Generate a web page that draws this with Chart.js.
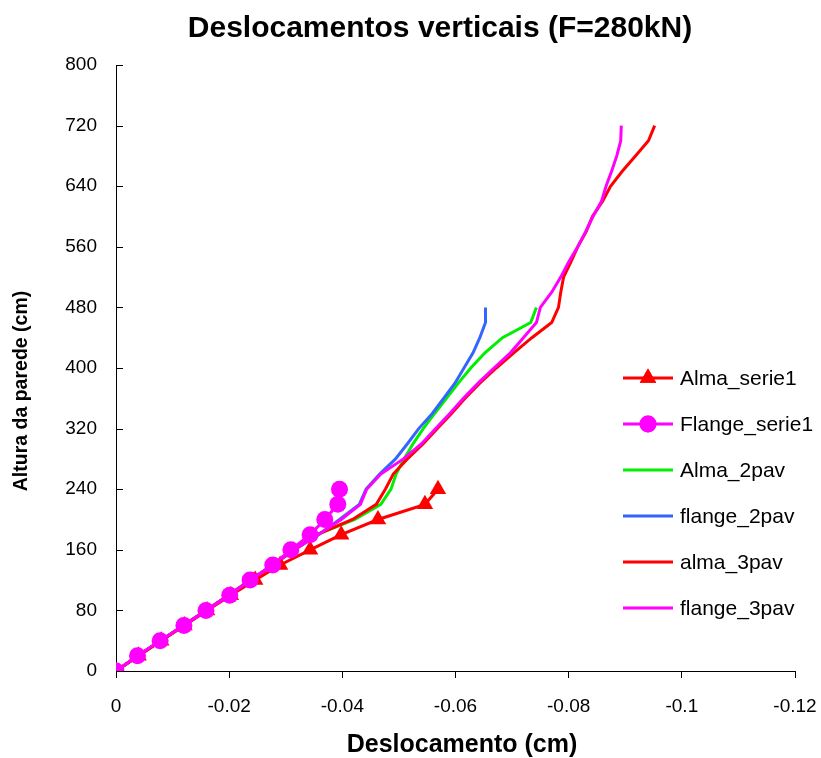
<!DOCTYPE html>
<html>
<head>
<meta charset="utf-8">
<script src="https://cdn.jsdelivr.net/npm/chart.js@4.4.0/dist/chart.umd.min.js"></script>
<style>
  html, body { margin: 0; padding: 0; background: #ffffff; }
  #wrap { width: 821px; height: 758px; position: relative; }
</style>
</head>
<body>
<div id="wrap"><canvas id="grafico"></canvas></div>
<script>
// Alturas (cm) e deslocamentos verticais (cm)
const alturasSerie1 = [0, 20, 40, 60, 80, 100, 120, 140, 160, 180, 200, 220, 240];
const almaSerie1   = [0, -0.0040, -0.0080, -0.0121, -0.0161, -0.0203, -0.0246, -0.0290, -0.0343, -0.0398, -0.0463, -0.0546, -0.0569];
const flangeSerie1 = [0, -0.0038, -0.0078, -0.0120, -0.0159, -0.0201, -0.0237, -0.0277, -0.0309, -0.0343, -0.0369, -0.0392, -0.0395];

const alturas2pav = [0, 20, 40, 60, 80, 100, 120, 140, 160, 180, 200, 220, 240, 260, 280, 300, 320, 340, 360, 380, 400, 420, 440, 460, 480];
const alma2pav   = [0, -0.0039, -0.0079, -0.0119, -0.0159, -0.0199, -0.0238, -0.0277, -0.0315, -0.0355, -0.0422, -0.0468, -0.0486, -0.0495, -0.0509, -0.0525, -0.0543, -0.0563, -0.0584, -0.0605, -0.0627, -0.0652, -0.0683, -0.0733, -0.0743];
const flange2pav = [0, -0.0039, -0.0079, -0.0119, -0.0159, -0.0199, -0.0238, -0.0277, -0.0315, -0.0358, -0.0395, -0.0430, -0.0442, -0.0466, -0.0494, -0.0515, -0.0535, -0.0559, -0.0579, -0.0599, -0.0615, -0.0631, -0.0643, -0.0653, -0.0653];

const alturas3pav = [0, 20, 40, 60, 80, 100, 120, 140, 160, 180, 200, 220, 240, 260, 280, 300, 320, 340, 360, 380, 400, 420, 440, 460, 480, 500, 520, 540, 560, 580, 600, 620, 640, 660, 680, 700, 720];
const alma3pav   = [0, -0.0039, -0.0079, -0.0119, -0.0159, -0.0199, -0.0238, -0.0277, -0.0315, -0.0355, -0.0418, -0.0460, -0.0476, -0.0490, -0.0515, -0.0543, -0.0568, -0.0593, -0.0617, -0.0643, -0.0672, -0.0703, -0.0735, -0.0770, -0.0782, -0.0786, -0.0791, -0.0804, -0.0816, -0.0831, -0.0842, -0.0860, -0.0874, -0.0895, -0.0918, -0.0941, -0.0952];
const flange3pav = [0, -0.0039, -0.0079, -0.0119, -0.0159, -0.0199, -0.0238, -0.0277, -0.0315, -0.0357, -0.0398, -0.0432, -0.0443, -0.0468, -0.0508, -0.0540, -0.0565, -0.0590, -0.0614, -0.0640, -0.0668, -0.0697, -0.0720, -0.0743, -0.0750, -0.0770, -0.0786, -0.0800, -0.0816, -0.0830, -0.0843, -0.0858, -0.0866, -0.0876, -0.0885, -0.0892, -0.0893];

// Eixos
const xTickValues = [0, -0.02, -0.04, -0.06, -0.08, -0.1, -0.12];
const xTickLabels = ['0', '-0.02', '-0.04', '-0.06', '-0.08', '-0.1', '-0.12'];
const yTickValues = [0, 80, 160, 240, 320, 400, 480, 560, 640, 720, 800];
const yTickLabels = ['0', '80', '160', '240', '320', '400', '480', '560', '640', '720', '800'];

const tituloGrafico = 'Deslocamentos verticais (F=280kN)';
const tituloX = 'Deslocamento (cm)';
const tituloY = 'Altura da parede (cm)';

const FONT = "'Liberation Sans', Arial, sans-serif";

function pontos(xs, ys) {
  return xs.map((x, i) => ({ x: x, y: ys[i] }));
}

function serie(label, xs, ys, cor, estilo, raio, ordem) {
  return {
    label: label,
    data: pontos(xs, ys),
    showLine: true,
    borderColor: cor,
    backgroundColor: cor,
    borderWidth: 3,
    pointStyle: estilo || 'circle',
    pointRadius: raio || 0,
    pointHoverRadius: raio || 0,
    pointBorderWidth: 0,
    tension: 0,
    order: ordem
  };
}

const datasets = [
  serie('Alma_serie1',   almaSerie1,   alturasSerie1, '#FF0000', 'triangle', 9.5, 1),
  serie('Flange_serie1', flangeSerie1, alturasSerie1, '#FF00FF', 'circle',   8.5, 0),
  serie('Alma_2pav',     alma2pav,     alturas2pav,   '#00EE00', false, 0, 5),
  serie('flange_2pav',   flange2pav,   alturas2pav,   '#3366FF', false, 0, 4),
  serie('alma_3pav',     alma3pav,     alturas3pav,   '#FF0000', false, 0, 3),
  serie('flange_3pav',   flange3pav,   alturas3pav,   '#FF00FF', false, 0, 2)
];

// Título do gráfico e títulos dos eixos
const titulosPlugin = {
  id: 'titulos',
  afterDraw(chart) {
    const ctx = chart.ctx;
    const area = chart.chartArea;
    ctx.save();
    ctx.fillStyle = '#000';
    ctx.textAlign = 'center';
    ctx.textBaseline = 'middle';
    ctx.font = "bold 30px " + FONT;
    ctx.fillText(tituloGrafico, 440, 29);
    ctx.font = "bold 25px " + FONT;
    ctx.fillText(tituloX, 462, 745);
    ctx.translate(22, 391);
    ctx.rotate(-Math.PI / 2);
    ctx.font = "bold 19.5px " + FONT;
    ctx.fillText(tituloY, 0, 0);
    ctx.restore();
  }
};

// Marcas do eixo vertical voltadas para dentro da área do gráfico
const marcasYPlugin = {
  id: 'marcasY',
  afterDraw(chart) {
    const ctx = chart.ctx;
    const ys = chart.scales.y;
    ctx.save();
    ctx.strokeStyle = '#000';
    ctx.lineWidth = 1;
    ys.ticks.forEach(t => {
      const py = Math.round(ys.getPixelForValue(t.value)) + 0.5;
      ctx.beginPath();
      ctx.moveTo(ys.right, py);
      ctx.lineTo(ys.right + 7, py);
      ctx.stroke();
    });
    ctx.restore();
  }
};

// Legenda desenhada dentro da área do gráfico
const legendaPlugin = {
  id: 'legendaInterna',
  afterDraw(chart) {
    const ctx = chart.ctx;
    const x0 = 623, x1 = 673, xt = 680, y0 = 378, dy = 46;
    ctx.save();
    chart.data.datasets.forEach((ds, i) => {
      const y = y0 + i * dy;
      ctx.strokeStyle = ds.borderColor;
      ctx.lineWidth = 3;
      ctx.beginPath();
      ctx.moveTo(x0, y);
      ctx.lineTo(x1, y);
      ctx.stroke();
      if (ds.pointRadius > 0) {
        ctx.fillStyle = ds.backgroundColor;
        Chart.helpers.drawPoint(ctx, { pointStyle: ds.pointStyle, radius: ds.pointRadius, borderWidth: 0, rotation: 0 }, (x0 + x1) / 2, y);
        ctx.fill();
      }
      ctx.fillStyle = '#000';
      ctx.font = "21px " + FONT;
      ctx.textAlign = 'left';
      ctx.textBaseline = 'middle';
      ctx.fillText(ds.label, xt, y + 1);
    });
    ctx.restore();
  }
};

new Chart(document.getElementById('grafico'), {
  type: 'scatter',
  data: { datasets: datasets },
  plugins: [titulosPlugin, marcasYPlugin, legendaPlugin],
  options: {
    responsive: true,
    maintainAspectRatio: false,
    animation: false,
    events: [],
    layout: { padding: { left: 0, right: 26, top: 65, bottom: 0 } },
    plugins: {
      legend: { display: false },
      title: { display: false },
      tooltip: { enabled: false }
    },
    scales: {
      x: {
        type: 'linear',
        reverse: true,
        min: -0.12,
        max: 0,
        afterBuildTicks(scale) { scale.ticks = xTickValues.map(v => ({ value: v })); },
        afterFit(scale) { scale.height = 87; scale.paddingLeft = 0; scale.paddingRight = 0; },
        grid: { display: true, drawOnChartArea: false, drawTicks: true, tickLength: 7, color: '#000', lineWidth: 1 },
        border: { display: true, color: '#000', width: 1 },
        ticks: {
          color: '#000',
          font: { family: FONT, size: 19 },
          padding: 17,
          maxRotation: 0,
          autoSkip: false,
          callback(v) { const i = xTickValues.findIndex(t => Math.abs(t - v) < 1e-9); return i >= 0 ? xTickLabels[i] : ''; }
        },
        title: { display: false }
      },
      y: {
        type: 'linear',
        min: 0,
        max: 800,
        afterBuildTicks(scale) { scale.ticks = yTickValues.map(v => ({ value: v })); },
        afterFit(scale) { scale.width = 116; scale.paddingTop = 0; scale.paddingBottom = 0; },
        grid: { display: false, drawTicks: false },
        border: { display: true, color: '#000', width: 1 },
        ticks: {
          color: '#000',
          font: { family: FONT, size: 19 },
          padding: 19,
          autoSkip: false,
          callback(v) { const i = yTickValues.indexOf(v); return i >= 0 ? yTickLabels[i] : ''; }
        },
        title: { display: false }
      }
    }
  }
});
</script>
</body>
</html>
